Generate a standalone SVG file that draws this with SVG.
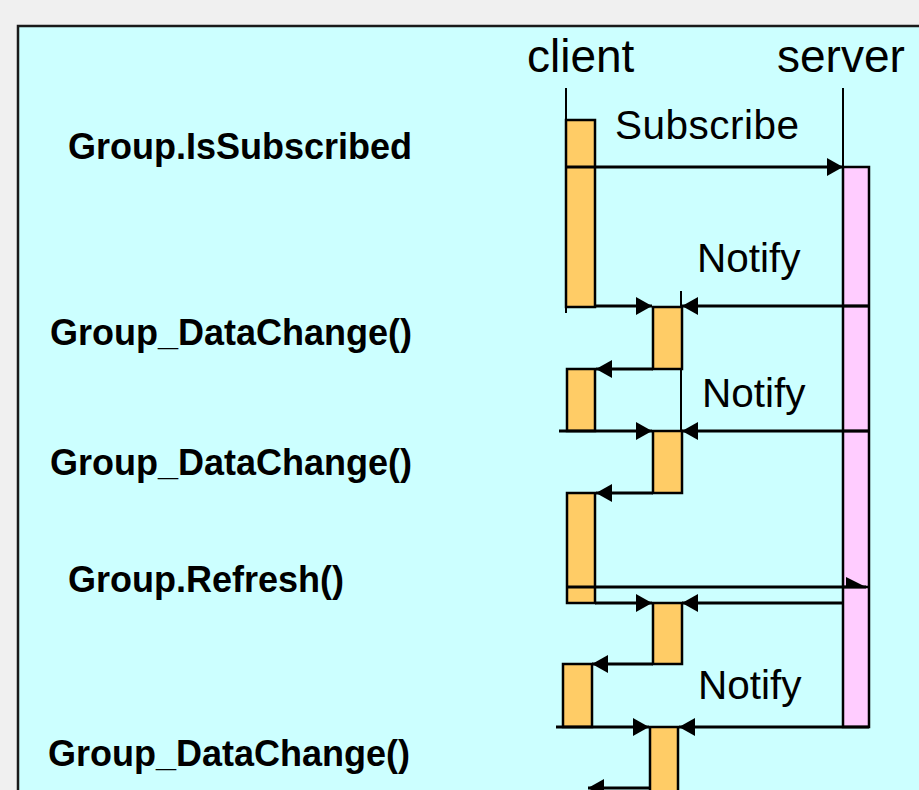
<svg xmlns="http://www.w3.org/2000/svg" width="919" height="790" viewBox="0 0 919 790">
<style>
.bg{fill:#f0f0f0}
.frame{fill:#ccffff;stroke:#1a1a1a;stroke-width:2.5}
.life{stroke:#000;stroke-width:2;fill:none}
.act{fill:#ffcc66;stroke:#000;stroke-width:2.5}
.srv{fill:#ffccff;stroke:#000;stroke-width:2.5}
.msg{stroke:#000;stroke-width:3;fill:none}
.sep{stroke:#000;stroke-width:2.5}
.hdr{font-family:"Liberation Sans",Arial,sans-serif;font-size:46px;fill:#000}
.lbl{font-family:"Liberation Sans",Arial,sans-serif;font-size:40.5px;fill:#000}
.side{font-family:"Liberation Sans",Arial,sans-serif;font-size:36px;font-weight:bold;fill:#000}
</style>
<defs>
<marker id="ah" markerUnits="userSpaceOnUse" markerWidth="16" markerHeight="18" refX="16" refY="9" orient="auto">
<path d="M0,0 L16,9 L0,18 z" fill="#000"/>
</marker>
</defs>
<rect class="bg" x="0" y="0" width="919" height="790"/>
<rect class="frame" x="18" y="26" width="940" height="800"/>

<g id="client">
<text class="hdr" x="527" y="72">client</text>
<line class="life" x1="566" y1="88" x2="566" y2="313"/>
</g>
<g id="server">
<text class="hdr" x="777" y="72">server</text>
<line class="life" x1="843" y1="88" x2="843" y2="167"/>
<rect class="srv" x="843" y="167" width="26" height="560"/>
<line class="sep" x1="843" y1="306" x2="869" y2="306"/>
<line class="sep" x1="843" y1="431" x2="869" y2="431"/>
<line class="sep" x1="843" y1="587" x2="869" y2="587"/>
</g>
<g id="callback">
<line class="life" x1="681" y1="291" x2="681" y2="431"/>
</g>

<g id="act-client-1"><rect class="act" x="566" y="120" width="29" height="187"/></g>
<g id="act-cb-1"><rect class="act" x="653" y="307" width="29" height="62"/></g>
<g id="act-client-2"><rect class="act" x="567" y="369" width="28" height="62"/></g>
<g id="act-cb-2"><rect class="act" x="653" y="431" width="29" height="62"/></g>
<g id="act-client-3"><rect class="act" x="567" y="493" width="28" height="110"/></g>
<g id="act-cb-3"><rect class="act" x="653" y="603" width="29" height="61"/></g>
<g id="act-client-4"><rect class="act" x="563" y="664" width="29" height="63"/></g>
<g id="act-cb-4"><rect class="act" x="650" y="727" width="28" height="80"/></g>

<g id="labels">
<text class="side" x="68" y="159">Group.IsSubscribed</text>
<text class="side" x="50" y="345">Group_DataChange()</text>
<text class="side" x="50" y="475">Group_DataChange()</text>
<text class="side" x="68" y="592">Group.Refresh()</text>
<text class="side" x="48" y="766">Group_DataChange()</text>
<text class="lbl" x="615" y="139" textLength="184">Subscribe</text>
<text class="lbl" x="697" y="272">Notify</text>
<text class="lbl" x="702" y="407">Notify</text>
<text class="lbl" x="698" y="699">Notify</text>
</g>

<g id="connectors">
<line class="msg" x1="567" y1="167" x2="843" y2="167" marker-end="url(#ah)"/>
<line class="msg" x1="595" y1="306" x2="652" y2="306" marker-end="url(#ah)"/>
<line class="msg" x1="869" y1="306" x2="682" y2="306" marker-end="url(#ah)"/>
<line class="msg" x1="653" y1="369" x2="596" y2="369" marker-end="url(#ah)"/>
<line class="msg" x1="559" y1="431" x2="652" y2="431" marker-end="url(#ah)"/>
<line class="msg" x1="869" y1="431" x2="682" y2="431" marker-end="url(#ah)"/>
<line class="msg" x1="653" y1="493" x2="596" y2="493" marker-end="url(#ah)"/>
<line class="msg" x1="567" y1="587" x2="866" y2="587"/>
<polygon points="846,577 866,587 846,587" fill="#000"/>
<line class="msg" x1="595" y1="603" x2="652" y2="603" marker-end="url(#ah)"/>
<line class="msg" x1="843" y1="603" x2="682" y2="603" marker-end="url(#ah)"/>
<line class="msg" x1="653" y1="664" x2="592" y2="664" marker-end="url(#ah)"/>
<line class="msg" x1="556" y1="727" x2="649" y2="727" marker-end="url(#ah)"/>
<line class="msg" x1="869" y1="727" x2="679" y2="727" marker-end="url(#ah)"/>
<line class="msg" x1="650" y1="788" x2="588" y2="788" marker-end="url(#ah)"/>
</g>
</svg>
